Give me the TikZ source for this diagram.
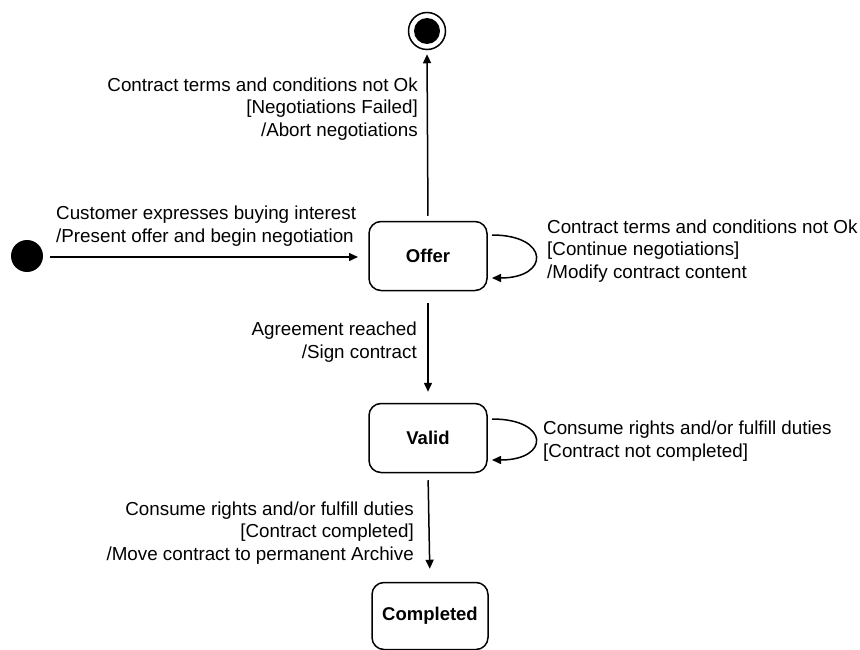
\documentclass[tikz,border=0pt]{standalone}
\usepackage{fontspec}
\setmainfont{Liberation Sans}
\usetikzlibrary{arrows.meta}
\begin{document}
\begin{tikzpicture}[x=1pt,y=-1pt,
  state/.style={draw, line width=1.5pt, rounded corners=12pt, minimum width=118pt, minimum height=69pt, font=\fontsize{18.5}{22}\selectfont\bfseries},
  lbl/.style={font=\fontsize{18.8}{22.5}\selectfont, inner sep=0pt},
  conn/.style={line width=1.5pt, -{Triangle[length=9pt,width=8pt]}}]
\useasboundingbox (0,0) rectangle (860,650);
\node[circle, fill=black, minimum size=32pt, inner sep=0pt] (init) at (27,256) {};
\node[circle, draw, line width=1.5pt, minimum size=37pt, inner sep=0pt] (final) at (427,31) {};
\node[circle, fill=black, minimum size=26pt, inner sep=0pt] (finalin) at (final.center) {};
\node[state] (offer) at (428,256) {Offer};
\node[state] (valid) at (428,438) {Valid};
\node[state, minimum width=116pt, minimum height=67pt] (done) at (430,616) {Completed};
\coordinate (oltop) at (492,235);
\coordinate (olbot) at (492,278);
\coordinate (vltop) at (492,419);
\coordinate (vlbot) at (492,460);
\coordinate (istart) at (50,257);
\coordinate (iend) at (358,257);
% connectors
\draw[conn] (istart) -- (iend);
\draw[conn, shorten <=5pt, shorten >=4pt] (offer.north) -- (final.south);
\draw[conn, shorten <=12pt, shorten >=11pt] (offer.south) -- (valid.north);
\draw[conn, shorten <=7pt, shorten >=13pt] (valid.south) -- (done.north);
\draw[conn] (oltop) .. controls (550,235) and (550,278) .. (olbot);
\draw[conn] (vltop) .. controls (550,419) and (550,460) .. (vlbot);
% labels
\node[lbl, anchor=west, align=left] (l1) at (56,226) {Customer expresses buying interest\\/Present offer and begin negotiation};
\node[lbl, anchor=east, align=right] (l2) at (418,109) {Contract terms and conditions not Ok\\{}[Negotiations Failed]\\/Abort negotiations};
\node[lbl, anchor=west, align=left] (l3) at (547,251) {Contract terms and conditions not Ok\\{}[Continue negotiations]\\/Modify contract content};
\node[lbl, anchor=east, align=right] (l4) at (417,342) {Agreement reached\\/Sign contract};
\node[lbl, anchor=west, align=left] (l5) at (543,441) {Consume rights and/or fulfill duties\\{}[Contract not completed]};
\node[lbl, anchor=east, align=right] (l6) at (414,533) {Consume rights and/or fulfill duties\\{}[Contract completed]\\/Move contract to permanent Archive};
\end{tikzpicture}
\end{document}
